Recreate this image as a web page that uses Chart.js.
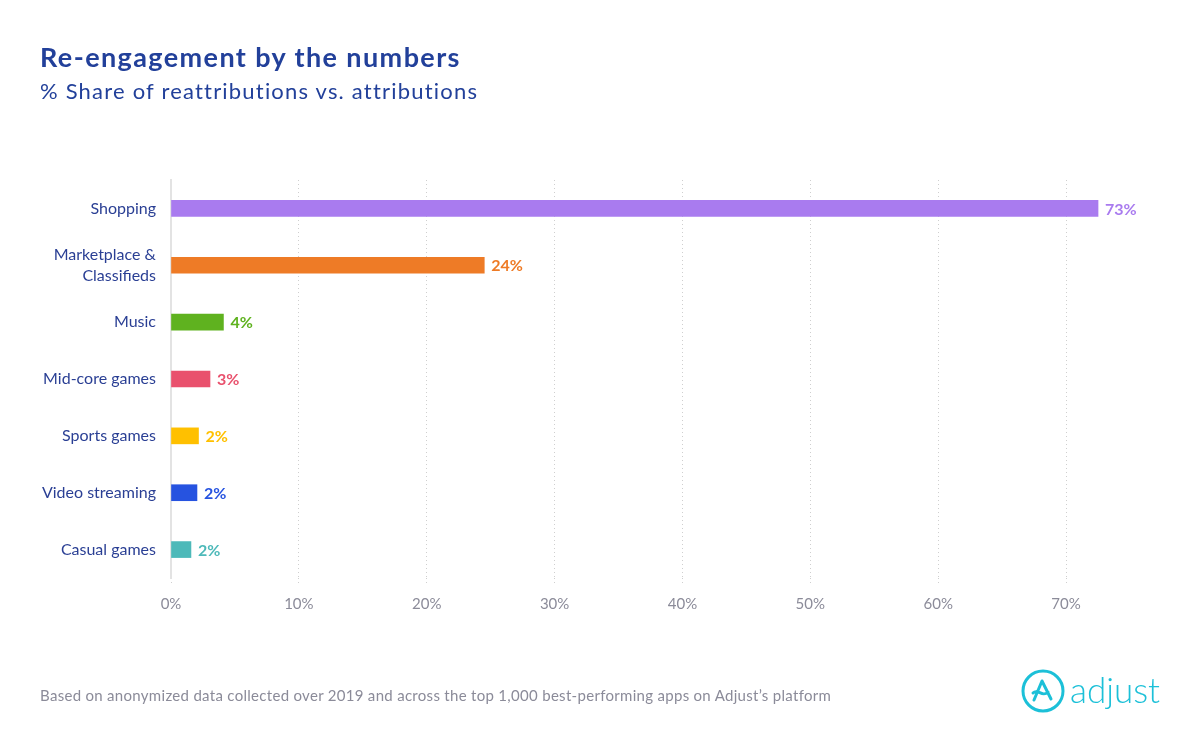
<!DOCTYPE html>
<html>
<head>
<meta charset="utf-8">
<script src="https://cdn.jsdelivr.net/npm/chart.js@4"></script>
<style>
  html, body { margin:0; padding:0; background:#fff; }
  body { width:1200px; height:742px; position:relative; overflow:hidden; font-family:"Lato","Noto Sans",sans-serif; }
  #wrap { position:absolute; left:0; top:0; width:1200px; height:742px; }
  #title { position:absolute; left:40px; top:40px; font-size:27px; font-weight:700; color:#22409a; letter-spacing:1.4px; }
  #subtitle { position:absolute; left:40px; top:77px; font-size:22px; color:#22409a; letter-spacing:1.2px; }
  #footer { position:absolute; left:40px; top:686px; font-size:15px; color:#8b8b99; letter-spacing:0.3px; }
  #logo { position:absolute; left:1020px; top:668px; }
</style>
</head>
<body>
<div id="wrap"><canvas id="c" width="1200" height="742"></canvas></div>
<div id="title">Re-engagement by the numbers</div>
<div id="subtitle">% Share of reattributions vs. attributions</div>
<div id="footer">Based on anonymized data collected over 2019 and across the top 1,000 best-performing apps on Adjust’s platform</div>
<svg id="logo" width="150" height="50" viewBox="0 0 150 50">
  <circle cx="23" cy="23" r="20" fill="none" stroke="#1cc0d8" stroke-width="3"/>
  <path d="M14 32 L22 13 L31 31 M13 25 C18 20, 22 30, 28 24" fill="none" stroke="#1cc0d8" stroke-width="3" stroke-linecap="round" stroke-linejoin="round"/>
  <text x="50" y="35" font-family="Lato, sans-serif" font-size="35" font-weight="300" fill="#1cc0d8">adjust</text>
</svg>
<script>
const categories = ["Shopping", ["Marketplace &", "Classifieds"], "Music", "Mid-core games", "Sports games", "Video streaming", "Casual games"];
const values = [72.5, 24.5, 4.1, 3.05, 2.15, 2.03, 1.56];
const valueLabels = ["73%", "24%", "4%", "3%", "2%", "2%", "2%"];
const barColors = ["#a97bef", "#ee7b26", "#5fb21f", "#e9516d", "#ffc000", "#2653e0", "#4db9b9"];
const xTicks = [0, 10, 20, 30, 40, 50, 60, 70];

const labelPlugin = {
  id: 'valueLabels',
  afterDatasetsDraw(chart) {
    const ctx = chart.ctx;
    const meta = chart.getDatasetMeta(0);
    ctx.save();
    ctx.font = "700 16px Lato, 'Noto Sans', sans-serif";
    ctx.textBaseline = 'middle';
    ctx.textAlign = 'left';
    meta.data.forEach((bar, i) => {
      ctx.fillStyle = barColors[i];
      ctx.fillText(valueLabels[i], bar.x + 7, bar.y + 1);
    });
    ctx.restore();
  }
};

new Chart(document.getElementById('c'), {
  type: 'bar',
  data: {
    labels: categories,
    datasets: [{
      data: values,
      backgroundColor: barColors,
      borderWidth: 0,
      barThickness: 16
    }]
  },
  options: {
    indexAxis: 'y',
    responsive: false,
    animation: false,
    devicePixelRatio: 1,
    layout: { padding: { left: 20, right: 70, top: 180, bottom: 100 } },
    plugins: { legend: { display: false }, tooltip: { enabled: false } },
    scales: {
      x: {
        min: 0, max: 75,
        afterBuildTicks(scale) { scale.ticks = xTicks.map(v => ({ value: v })); },
        afterFit(scale) { scale.height = 64; },
        ticks: {
          padding: 10,
          color: '#8b8b99',
          font: { size: 15, family: "Lato, 'Noto Sans', sans-serif" },
          callback: v => v + '%'
        },
        grid: { color: '#cfcfcf', lineWidth: 1, drawTicks: true, tickLength: 7, tickBorderDash: [1, 3], tickColor: '#cfcfcf' },
        border: { display: false, dash: [1, 3] }
      },
      y: {
        afterFit(scale) { scale.width = 151; },
        ticks: {
          padding: 15,
          color: '#2a3f94',
          font: { size: 16, family: "Lato, 'Noto Sans', sans-serif", lineHeight: 1.3 }
        },
        grid: { display: false, drawTicks: false },
        border: { display: true, color: '#e3e3e3', width: 2 }
      }
    }
  },
  plugins: [labelPlugin]
});
</script>
</body>
</html>
